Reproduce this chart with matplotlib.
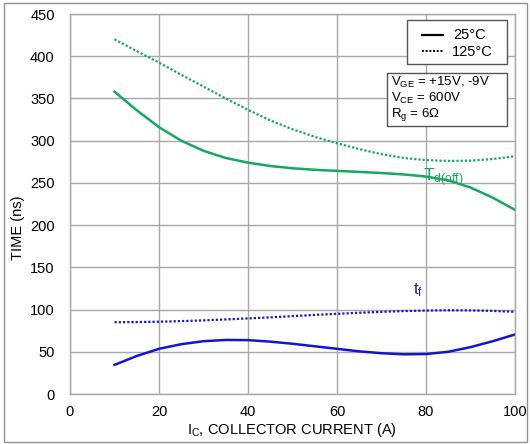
import matplotlib
matplotlib.use("Agg")
import matplotlib.pyplot as plt
from matplotlib.patches import Rectangle
from matplotlib.lines import Line2D

plt.rcParams["font.family"] = ["Liberation Sans", "DejaVu Sans"]
plt.rcParams["mathtext.fontset"] = "custom"
plt.rcParams["mathtext.rm"] = "Liberation Sans"
plt.rcParams["mathtext.it"] = "Liberation Sans"

GREEN = "#16a85c"
BLUE = "#1414d0"
GRID = "#a8a8a8"

# collector current (A)
ic = [10, 15, 20, 25, 30, 35, 40, 45, 50, 55, 60, 65, 70, 75, 80, 85, 90, 95, 100]

# td(off), ns
td_off_25 = [358, 336, 316, 300, 288, 279.5, 274, 270, 267.3, 265.5, 264.2, 263,
             261.7, 260, 257.5, 253, 244.5, 232.5, 218]
td_off_125 = [420, 406, 392.5, 378, 364, 350, 336.5, 324, 313.5, 304.5, 297, 290,
              284, 279.5, 277, 276, 276.3, 278.3, 281.5]

# tf, ns
tf_25 = [34.5, 45, 53.5, 59, 62.5, 64, 63.8, 62, 59.5, 56.5, 53.5, 50.5, 48.3,
         47, 47.3, 50, 55.5, 62.5, 70.5]
tf_125 = [85, 85.2, 85.6, 86.3, 87.2, 88.3, 89.5, 90.8, 92.2, 93.6, 95, 96.2,
          97.3, 98.2, 98.8, 99.1, 99, 98.4, 97.3]

DOT = (0, (1.0, 0.9))

fig = plt.figure(figsize=(5.3, 4.44), dpi=100)
ax = fig.add_axes([70 / 530, 1 - 394 / 444, 445 / 530, 380 / 444])

ax.plot(ic, td_off_25, color=GREEN, lw=1.8, solid_joinstyle="round")
ax.plot(ic, td_off_125, color=GREEN, lw=1.6, linestyle=DOT)
ax.plot(ic, tf_25, color=BLUE, lw=1.8, solid_joinstyle="round")
ax.plot(ic, tf_125, color=BLUE, lw=1.6, linestyle=DOT)

ax.set_xlim(0, 100)
ax.set_ylim(0, 450)
ax.set_xticks(range(0, 101, 20))
ax.set_yticks(range(0, 451, 50))
ax.grid(True, color=GRID, lw=1.0)
ax.set_axisbelow(True)
ax.tick_params(length=0, labelsize=10.5)
ax.tick_params(axis="y", pad=11)
ax.tick_params(axis="x", pad=8)
for sp in ax.spines.values():
    sp.set_color(GRID)
    sp.set_linewidth(1.0)

# curve labels
ax.text(79.3, 252, r"T$_{\mathrm{d(off)}}$", color=GREEN, fontsize=12.5,
        ha="left", va="baseline")
ax.text(77.0, 118, r"t$_{\mathrm{f}}$", color="#2020a0", fontsize=12,
        ha="left", va="baseline")

# temperature key
kx0, ky0 = 407 / 530, 1 - 64 / 444
fig.add_artist(Rectangle((kx0, ky0), 100 / 530, 44 / 444, transform=fig.transFigure,
                         facecolor="white", edgecolor="#555555", lw=1.0))
fig.add_artist(Line2D([422 / 530, 443 / 530], [1 - 35 / 444] * 2,
                      transform=fig.transFigure, color="black", lw=1.6))
fig.add_artist(Line2D([422 / 530, 443 / 530], [1 - 51.5 / 444] * 2,
                      transform=fig.transFigure, color="black", lw=1.4, linestyle=DOT))
fig.text(453 / 530, 1 - 35 / 444, "25°C", fontsize=10.5, va="center")
fig.text(452 / 530, 1 - 51.5 / 444, "125°C", fontsize=10.5, va="center")

# test conditions
fig.add_artist(Rectangle((387 / 530, 1 - 126 / 444), 120 / 530, 53 / 444,
                         transform=fig.transFigure, facecolor="white",
                         edgecolor="#555555", lw=1.0))
fig.text(391 / 530, 1 - 99 / 444,
         "V$_{\\mathrm{GE}}$ = +15V, -9V\nV$_{\\mathrm{CE}}$ = 600V\nR$_{\\mathrm{g}}$ = 6Ω",
         fontsize=9.5, va="center", ha="left", linespacing=1.05)

fig.text(292 / 530, 1 - 430 / 444, r"I$_{\mathrm{C}}$, COLLECTOR CURRENT (A)",
         fontsize=10.5, ha="center", va="center")
fig.text(18 / 530, 1 - 228 / 444, "TIME (ns)", fontsize=10.5, rotation=90,
         ha="center", va="center")

# outer frame
fig.add_artist(Rectangle((4 / 530, 2 / 444), 523 / 530, 439 / 444,
                         transform=fig.transFigure, facecolor="none",
                         edgecolor="#909090", lw=1.0))

fig.savefig("out.png", dpi=100)
